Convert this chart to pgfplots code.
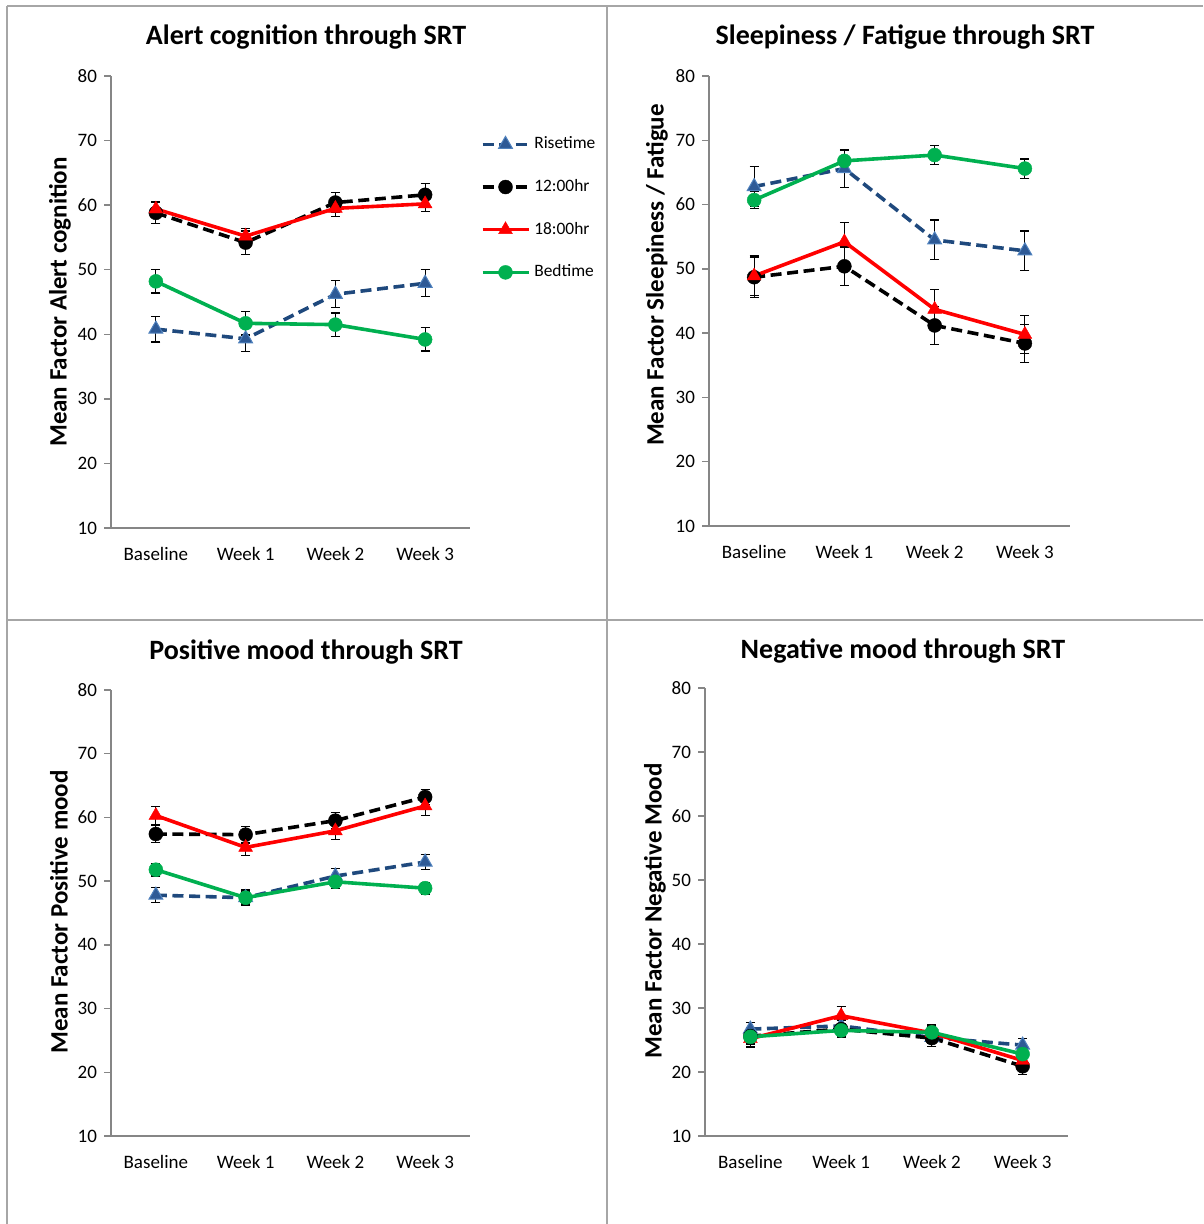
\documentclass[border=0pt]{standalone}
\usepackage{fontspec}
\setmainfont{Carlito}
\usepackage{pgfplots}
\pgfplotsset{compat=1.18}
\usepackage{pgfplotstable}

\definecolor{riseline}{RGB}{31,73,125}
\definecolor{risefill}{RGB}{46,90,150}
\definecolor{riseedge}{RGB}{79,129,189}
\definecolor{evered}{RGB}{255,0,0}
\definecolor{bedgreen}{RGB}{0,176,80}
\definecolor{framegray}{RGB}{166,166,166}
\definecolor{axisgray}{RGB}{134,134,134}

% columns: visit, mean and SE for Risetime, 12:00hr, 18:00hr, Bedtime
\pgfplotstableread{
x rise riseE noon noonE eve eveE bed bedE
0 40.8 2.0 58.8 1.7 59.4 1.2 48.2 1.8
1 39.3 2.0 54.2 1.8 55.2 1.2 41.7 1.8
2 46.2 2.1 60.4 1.6 59.5 1.2 41.5 1.8
3 47.9 2.1 61.6 1.8 60.2 1.2 39.2 1.8
}\alert
\pgfplotstableread{
x rise riseE noon noonE eve eveE bed bedE
0 62.8 3.1 48.7 3.1 48.9 3.1 60.7 1.3
1 65.6 3.0 50.4 3.0 54.2 3.0 66.8 1.6
2 54.5 3.1 41.2 3.0 43.7 3.1 67.7 1.5
3 52.8 3.1 38.4 3.0 39.8 3.0 65.6 1.5
}\sleepy
\pgfplotstableread{
x rise riseE noon noonE eve eveE bed bedE
0 47.8 1.2 57.4 1.3 60.3 1.4 51.8 1.0
1 47.4 1.2 57.3 1.3 55.3 1.3 47.4 1.0
2 50.8 1.2 59.5 1.3 57.9 1.3 49.9 1.0
3 53.0 1.2 63.2 1.2 61.8 1.5 48.9 0.9
}\posmood
\pgfplotstableread{
x rise riseE noon noonE eve eveE bed bedE
0 26.7 1.0 25.6 1.3 25.2 1.3 25.5 1.0
1 27.2 1.0 26.7 1.3 28.8 1.4 26.5 1.0
2 25.4 1.0 25.3 1.3 26.1 1.3 26.2 1.0
3 24.2 1.0 20.9 1.3 21.8 1.0 22.8 1.0
}\negmood

\pgfplotsset{
  srt/.style={
    scale only axis,
    xmin=-0.5, xmax=3.5, ymin=10, ymax=80,
    ytick={10,20,...,80},
    xtick={0,1,2,3},
    xticklabels={Baseline,Week 1,Week 2,Week 3},
    axis x line=bottom, axis y line=left,
    axis line style={axisgray, line width=0.75pt, -},
    tick align=outside,
    major tick length=3.5pt,
    ytick style={axisgray, line width=0.75pt},
    xtick style={draw=none},
    ticklabel style={font=\fontsize{9.5}{11}\selectfont, black},
    xticklabel style={yshift=-2.5pt},
    /pgf/number format/assume math mode=true,
    clip=false,
  },
  ebar/.style={
    error bars/.cd, y dir=both, y explicit,
    error bar style={black, line width=0.6pt, solid},
    error mark options={rotate=90, black, mark size=2.2pt, line width=0.6pt, solid},
  },
  rise/.style={riseline, line width=1.8pt, dash pattern=on 5.5pt off 2.8pt,
    mark=triangle*, mark size=4pt,
    mark options={solid, fill=risefill, draw=riseedge, line width=0.5pt}},
  noon/.style={black, line width=1.8pt, dash pattern=on 5.5pt off 2.8pt,
    mark=*, mark size=3.5pt, mark options={solid, fill=black, draw=black, line width=0.2pt}},
  eve/.style={evered, line width=1.8pt, solid,
    mark=triangle*, mark size=4pt, mark options={solid, fill=evered, draw=evered, line width=0.2pt}},
  bed/.style={bedgreen, line width=1.8pt, solid,
    mark=*, mark size=3.5pt, mark options={solid, fill=bedgreen, draw=bedgreen, line width=0.2pt}},
}

\newcommand{\fourseries}[1]{%
  \addplot[rise, ebar] table[x=x, y=rise, y error=riseE] {#1};
  \addplot[noon, ebar] table[x=x, y=noon, y error=noonE] {#1};
  \addplot[eve, ebar] table[x=x, y=eve, y error=eveE] {#1};
  \addplot[bed, ebar] table[x=x, y=bed, y error=bedE] {#1};
}

\begin{document}
\begin{tikzpicture}
\path[use as bounding box] (0pt,0pt) rectangle (601.5pt,-612pt);

% panel dividers
\begin{scope}[framegray, line width=0.75pt]
  \draw (3.5pt,-3pt) -- (601.5pt,-3pt);
  \draw (3.5pt,-3pt) -- (3.5pt,-612pt);
  \draw (303.5pt,-3pt) -- (303.5pt,-612pt);
  \draw (3.5pt,-310pt) -- (601.5pt,-310pt);
\end{scope}

% titles
\begin{scope}[font=\fontsize{14}{16}\selectfont\bfseries]
  \node at (153pt,-18.5pt) {Alert cognition through SRT};
  \node at (452.5pt,-18.5pt) {Sleepiness / Fatigue through SRT};
  \node at (153pt,-326pt) {Positive mood through SRT};
  \node at (451.5pt,-325.5pt) {Negative mood through SRT};
\end{scope}

% y axis labels
\begin{scope}[font=\fontsize{12.5}{14}\selectfont\bfseries]
  \node[rotate=90] at (30pt,-151pt) {Mean Factor Alert cognition};
  \node[rotate=90] at (328.5pt,-137.5pt) {Mean Factor Sleepiness / Fatigue};
  \node[rotate=90] at (29.5pt,-456pt) {Mean Factor Positive mood};
  \node[rotate=90] at (327.5pt,-455.5pt) {Mean Factor Negative Mood};
\end{scope}

\begin{axis}[srt, at={(55.5pt,-264pt)}, anchor=south west, width=179.5pt, height=226pt,
  legend style={draw=none, fill=none, at={(1.012,0.884)}, anchor=north west,
    font=\fontsize{8.7}{10}\selectfont, row sep=9.8pt, cells={anchor=west}},
  legend image code/.code={\draw[mark repeat=2, mark phase=2] plot coordinates {(0pt,0pt) (11.5pt,0pt) (23pt,0pt)};},
]
\fourseries{\alert}
\legend{Risetime,12:00hr,18:00hr,Bedtime}
\end{axis}

\begin{axis}[srt, at={(354.5pt,-263pt)}, anchor=south west, width=180.5pt, height=225pt]
\fourseries{\sleepy}
\end{axis}

\begin{axis}[srt, at={(55.5pt,-568pt)}, anchor=south west, width=179.5pt, height=223pt]
\fourseries{\posmood}
\end{axis}

\begin{axis}[srt, at={(352.5pt,-568pt)}, anchor=south west, width=181.5pt, height=224pt]
\fourseries{\negmood}
\end{axis}
\end{tikzpicture}
\end{document}
